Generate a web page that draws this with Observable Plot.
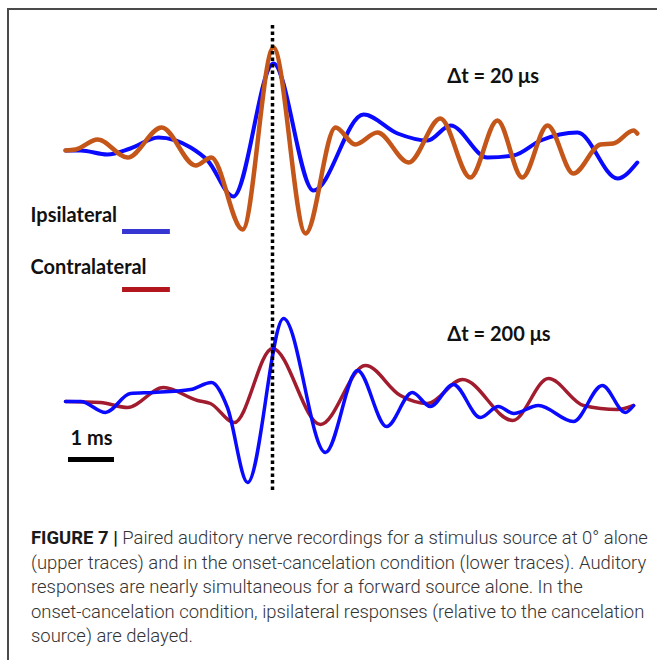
<!DOCTYPE html>
<html>
<head>
<meta charset="utf-8">
<script src="https://cdn.jsdelivr.net/npm/d3@7"></script>
<script src="https://cdn.jsdelivr.net/npm/@observablehq/plot@0.6"></script>
<style>
  html, body { margin: 0; padding: 0; background: #fff; }
  #wrap { position: relative; width: 657px; height: 660px; overflow: hidden; background: #fff; }
  #frame { position: absolute; left: 7px; top: 8px; width: 660px; height: 660px;
           border-top: 2px solid #4a4a4a; border-left: 2px solid #4a4a4a; box-sizing: border-box; }
  #chart { position: absolute; left: 0; top: 0; }
  #caption { position: absolute; left: 31px; top: 526px;
             font-family: Roboto, "Liberation Sans", sans-serif; font-weight: 300;
             font-size: 17px; line-height: 24.5px; color: #333; white-space: nowrap; }
  #caption span { display: block; width: max-content; }
  #caption b { color: #1a1a1a; font-weight: 700; }
</style>
</head>
<body>
<div id="wrap">
  <div id="frame"></div>
  <div id="chart"></div>
  <div id="caption">
    <span id="cap1"><b>FIGURE 7 |</b> Paired auditory nerve recordings for a stimulus source at 0° alone</span>
    <span>(upper traces) and in the onset-cancelation condition (lower traces). Auditory</span>
    <span>responses are nearly simultaneous for a forward source alone. In the</span>
    <span>onset-cancelation condition, ipsilateral responses (relative to the cancelation</span>
    <span>source) are delayed.</span>
  </div>
</div>
<script>
// time (ms) , amplitude (normalized units)
const upperIpsi = [[0,0],[0.33,0],[0.91,-0.04],[1.41,0.02],[2.02,0.13],[2.72,0.03],[3.09,-0.10],[3.65,-0.46],[4.52,0.87],[5.39,-0.40],[6.48,0.36],[7.22,0.17],[7.87,0.10],[8.37,0.25],[9.17,-0.07],[9.74,-0.05],[10.33,0.10],[11.13,0.18],[12.0,-0.28],[12.43,-0.12]];
const upperContra = [[0,0],[0.22,0.01],[0.70,0.11],[1.35,-0.07],[2.09,0.23],[2.83,-0.15],[3.17,-0.07],[3.85,-0.79],[4.52,1.03],[5.22,-0.83],[5.87,0.23],[6.30,0.06],[6.78,0.18],[7.46,-0.12],[8.15,0.32],[8.80,-0.27],[9.39,0.30],[9.93,-0.27],[10.48,0.25],[11.04,-0.23],[11.63,0.06],[11.91,0.07],[12.35,0.20],[12.43,0.17]];
const lowerIpsi = [[0,-0.01],[0.33,-0.01],[0.87,-0.12],[1.41,0.07],[1.91,0.08],[2.72,0.11],[3.17,0.18],[3.52,-0.07],[3.96,-0.82],[4.74,0.82],[5.65,-0.52],[6.35,0.30],[6.98,-0.26],[7.54,0.08],[7.93,-0.06],[8.43,0.16],[9.02,-0.17],[9.41,-0.06],[9.74,-0.13],[10.28,-0.05],[11.04,-0.21],[11.67,0.15],[12.17,-0.12],[12.35,-0.05]];
const lowerContra = [[0,-0.01],[0.76,-0.02],[1.35,-0.07],[2.13,0.13],[2.87,0.0],[3.15,-0.03],[3.67,-0.22],[4.50,0.52],[5.54,-0.24],[6.52,0.35],[7.28,0.05],[7.87,-0.03],[8.63,0.21],[9.72,-0.20],[10.50,0.22],[11.26,-0.05],[12.0,-0.09],[12.35,-0.05]];
const onsetTime = [4.5];           // ms, dotted reference line
const scaleBarMs = [1];            // 1 ms scale bar
const labels = ["Δt = 20 μs", "Δt = 200 μs"];
const seriesNames = ["Ipsilateral", "Contralateral"];

const UPPER = 3.5, LOWER = 1.0;    // trace baselines (stacked offsets)
const C = { ipsi: "#0a0aff", contraUp: "#c4561a", contraLow: "#a01c2e", legIpsi: "#3636d2", legContra: "#b3161c" };
const font = "Lato, 'Open Sans', sans-serif";
const FS = 20;

const chart = Plot.plot({
  width: 657, height: 500,
  margin: 0,
  x: { domain: [-65/46, 592/46], axis: null },
  y: { domain: [0, 5], axis: null },
  marks: [
    Plot.line(upperIpsi, { x: d => d[0], y: d => UPPER + d[1], stroke: C.ipsi, strokeWidth: 4, curve: "monotone-x" }),
    Plot.line(upperContra, { x: d => d[0], y: d => UPPER + d[1], stroke: C.contraUp, strokeWidth: 4.5, curve: "monotone-x" }),
    Plot.line(lowerContra, { x: d => d[0], y: d => LOWER + d[1], stroke: C.contraLow, strokeWidth: 3.5, curve: "monotone-x" }),
    Plot.line(lowerIpsi, { x: d => d[0], y: d => LOWER + d[1], stroke: C.ipsi, strokeWidth: 3.5, curve: "monotone-x" }),
    Plot.ruleX(onsetTime, { y1: 0.10, y2: 4.76, stroke: "#000", strokeWidth: 3.5, strokeDasharray: "3.5,3", strokeLinecap: "butt" }),
    // delta-t labels
    Plot.text([labels[0]], { x: 8.30, y: 4.18, text: d => d, textAnchor: "start", lineAnchor: "bottom", fontFamily: font, fontWeight: "bold", fontSize: FS, fill: "#111" }),
    Plot.text([labels[1]], { x: 8.30, y: 1.60, text: d => d, textAnchor: "start", lineAnchor: "bottom", fontFamily: font, fontWeight: "bold", fontSize: FS, fill: "#111" }),
    // legend
    Plot.text([seriesNames[0]], { x: -0.76, y: 2.79, text: d => d, textAnchor: "start", lineAnchor: "bottom", fontFamily: font, fontWeight: "bold", fontSize: FS, fill: "#111" }),
    Plot.text([seriesNames[1]], { x: -0.76, y: 2.27, text: d => d, textAnchor: "start", lineAnchor: "bottom", fontFamily: font, fontWeight: "bold", fontSize: FS, fill: "#111" }),
    Plot.ruleY([2.69], { x1: 1.24, x2: 2.28, stroke: C.legIpsi, strokeWidth: 5, strokeLinecap: "butt" }),
    Plot.ruleY([2.11], { x1: 1.24, x2: 2.28, stroke: C.legContra, strokeWidth: 5, strokeLinecap: "butt" }),
    // scale bar
    Plot.ruleY([0.41], { x1: 0.065, x2: 0.065 + scaleBarMs[0], stroke: "#000", strokeWidth: 5, strokeLinecap: "butt" }),
    Plot.text([scaleBarMs[0] + " ms"], { x: 0.065 + scaleBarMs[0] / 2, y: 0.56, text: d => d, textAnchor: "middle", lineAnchor: "bottom", fontFamily: font, fontWeight: "bold", fontSize: FS, fill: "#111" })
  ]
});
document.getElementById("chart").appendChild(chart);

// fit caption so its first line spans the same width as in the figure
const cap = document.getElementById("caption");
const w = document.getElementById("cap1").getBoundingClientRect().width;
if (w > 0) cap.style.fontSize = (17 * 617 / w).toFixed(2) + "px";
</script>
</body>
</html>
